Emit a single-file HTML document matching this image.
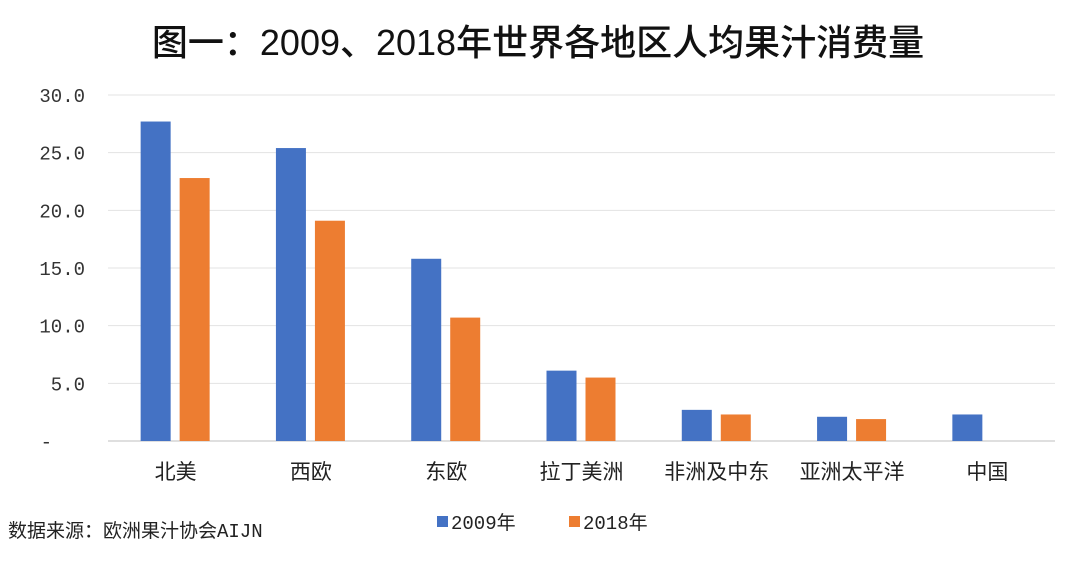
<!DOCTYPE html>
<html><head><meta charset="utf-8"><style>
html,body{margin:0;padding:0;background:#fff;}
svg text{font-family:"Liberation Sans","Noto Sans CJK SC",sans-serif;}
svg text.mono{font-family:"Liberation Mono","Noto Sans CJK SC",monospace;}
</style></head><body>
<svg width="1080" height="557" viewBox="0 0 1080 557" xmlns="http://www.w3.org/2000/svg">
<text x="538" y="55" text-anchor="middle" font-size="36" font-weight="500" fill="#111">图一：2009、2018年世界各地区人均果汁消费量</text>
<g id="grid"></g>
<g id="yticks"></g>
<g id="bars"></g>
<g id="xlabels"></g>
<text class="mono" x="8" y="537" font-size="19" fill="#222">数据来源：欧洲果汁协会AIJN</text>
<g>
<rect x="437" y="516" width="11" height="11" fill="#4472c4"/>
<text class="mono" x="451" y="529" font-size="19" fill="#222">2009年</text>
<rect x="569" y="516" width="11" height="11" fill="#ed7d31"/>
<text class="mono" x="583" y="529" font-size="19" fill="#222">2018年</text>
</g>
</svg>
<script>
const categories=["北美","西欧","东欧","拉丁美洲","非洲及中东","亚洲太平洋","中国"];
const values2009=[27.7,25.4,15.8,6.1,2.7,2.1,2.3];
const values2018=[22.8,19.1,10.7,5.5,2.3,1.9,null];
const tickValues=[0,5,10,15,20,25,30];
const tickLabels=["-","5.0","10.0","15.0","20.0","25.0","30.0"];
const NS="http://www.w3.org/2000/svg";
const left=108,right=1055,y0=441,yTop=95,yMax=30;
const y=v=>y0-(v/yMax)*(y0-yTop);
const band=(right-left)/categories.length;
const cx=i=>left+band*(i+0.5);
function mk(t,a,p){const e=document.createElementNS(NS,t);for(const k in a)e.setAttribute(k,a[k]);p.appendChild(e);return e;}
const grid=document.getElementById('grid'),yt=document.getElementById('yticks'),bars=document.getElementById('bars'),xl=document.getElementById('xlabels');
tickValues.forEach((v,i)=>{
 const l=mk('line',{x1:left,x2:right,y1:y(v),y2:y(v),stroke:i===0?'#bfbfbf':'#e3e3e3','stroke-width':1},grid);
 
 
 const t=mk('text',{x:i===0?52:85,y:y(v)+7,'text-anchor':'end','font-size':19,fill:'#333','class':'mono'},yt);
 t.textContent=tickLabels[i];
 
 
});
categories.forEach((c,i)=>{
 const c0=cx(i);
 const a=values2009[i];
 if(a!=null){const r=mk('rect',{x:c0-35,y:y(a),width:30,height:y0-y(a),fill:'#4472c4'},bars);
  
  }
 const b=values2018[i];
 if(b!=null){const r=mk('rect',{x:c0+4,y:y(b),width:30,height:y0-y(b),fill:'#ed7d31'},bars);
  
  }
 const t=mk('text',{x:c0,y:479,'text-anchor':'middle','font-size':21,fill:'#222'},xl);
 t.textContent=c;
 
 
});
</script>
</body></html>
